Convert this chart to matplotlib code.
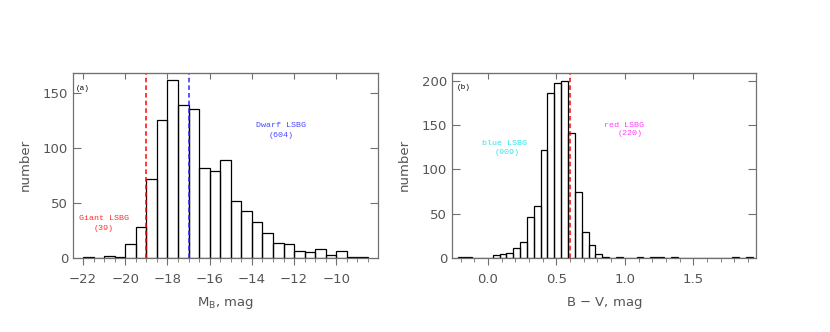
import numpy as np
import matplotlib
matplotlib.use("Agg")
import matplotlib.pyplot as plt
from matplotlib.ticker import MultipleLocator

# (a) absolute magnitude histogram, bins of 0.5 mag starting at -22
mb_start = -22.0
mb_width = 0.5
mb_counts = [1, 0, 2, 1, 13, 28, 72, 125, 161, 139, 135, 82, 79, 89, 52, 43,
             33, 23, 14, 13, 6, 5, 8, 3, 6, 1, 1]
mb_giant_cut = -19.0
mb_dwarf_cut = -17.0

# (b) colour histogram, bins of 0.05 mag starting at -0.215
bv_start = -0.215
bv_width = 0.05
bv_counts = [1, 1, 0, 0, 0, 3, 4, 6, 11, 18, 46, 59, 122, 186, 197, 200, 141,
             74, 29, 15, 5, 1, 0, 1, 0, 0, 1, 0, 1, 1, 0, 1, 0, 0, 0, 0, 0, 0,
             0, 0, 1, 0, 1]
bv_cut = 0.6

GRAY = "#707070"
TXT = "#555555"
LAB_FONT = "Liberation Mono"

fig = plt.figure(figsize=(8.3, 3.32), dpi=100)
ax1 = fig.add_axes([0.088, 0.223, 0.3674, 0.558])
ax2 = fig.add_axes([0.5446, 0.223, 0.3662, 0.558])


def style(ax, major):
    for s in ax.spines.values():
        s.set_color(GRAY)
        s.set_linewidth(0.9)
    ax.tick_params(axis="y", which="both", direction="in", length=6,
                   color=GRAY, labelcolor=TXT, labelsize=9.5, left=True, right=True)
    ax.tick_params(axis="x", which="major", direction="out", length=5,
                   color=GRAY, labelcolor=TXT, labelsize=9.5, pad=6)
    ax.tick_params(axis="x", which="minor", direction="out", length=3, color=GRAY)
    ax.set_ylabel("number", color=TXT, fontsize=9.5, labelpad=8)
    top = ax.secondary_xaxis("top")
    top.xaxis.set_major_locator(MultipleLocator(major))
    top.tick_params(direction="in", length=4, color=GRAY, labeltop=False)
    top.spines["top"].set_color(GRAY)


def hist(ax, start, width, counts):
    counts = np.array(counts)
    edges = start + width * np.arange(len(counts))
    ax.bar(edges, counts, width=width, align="edge", fill=False,
           edgecolor="black", linewidth=0.9)


# panel a
hist(ax1, mb_start, mb_width, mb_counts)
ax1.axvline(mb_giant_cut, color="red", ls=(0, (3, 2)), lw=1.1)
ax1.axvline(mb_dwarf_cut, color="#2828ff", ls=(0, (3, 2)), lw=1.1)
ax1.set_xlim(-22.47, -8.03)
ax1.set_ylim(0, 168)
ax1.xaxis.set_major_locator(MultipleLocator(2))
ax1.xaxis.set_minor_locator(MultipleLocator(0.5))
ax1.yaxis.set_major_locator(MultipleLocator(50))
style(ax1, 2)
ax1.set_xlabel("M$_\\mathregular{B}$, mag", color=TXT, fontsize=9.5, labelpad=6)
ax1.text(-22.35, 154, "(a)", fontsize=5.5, family=LAB_FONT, va="center")
ax1.text(-12.6, 120.5, "Dwarf LSBG", fontsize=6, family=LAB_FONT,
         color="#4848ff", ha="center", va="center")
ax1.text(-12.6, 111.5, "(604)", fontsize=6, family=LAB_FONT,
         color="#4848ff", ha="center", va="center")
ax1.text(-21.0, 36, "Giant LSBG", fontsize=6, family=LAB_FONT,
         color="#ff3030", ha="center", va="center")
ax1.text(-21.0, 27, "(39)", fontsize=6, family=LAB_FONT,
         color="#ff3030", ha="center", va="center")

# panel b
hist(ax2, bv_start, bv_width, bv_counts)
ax2.axvline(bv_cut, color="red", ls=(0, (3, 2)), lw=1.1)
ax2.set_xlim(-0.262, 1.957)
ax2.set_ylim(0, 209)
ax2.xaxis.set_major_locator(MultipleLocator(0.5))
ax2.xaxis.set_minor_locator(MultipleLocator(0.1))
ax2.yaxis.set_major_locator(MultipleLocator(50))
ax2.xaxis.set_major_formatter(plt.FormatStrFormatter("%.1f"))
style(ax2, 0.5)
ax2.set_xlabel("B $-$ V, mag", color=TXT, fontsize=9.5, labelpad=6)
ax2.text(-0.225, 192, "(b)", fontsize=5.5, family=LAB_FONT, va="center")
ax2.text(0.12, 129, "blue LSBG", fontsize=6, family=LAB_FONT,
         color="#30e8f0", ha="center", va="center")
ax2.text(0.14, 119, "(909)", fontsize=6, family=LAB_FONT,
         color="#30e8f0", ha="center", va="center")
ax2.text(0.99, 150, "red LSBG", fontsize=6, family=LAB_FONT,
         color="#ff40ff", ha="center", va="center")
ax2.text(1.04, 140, "(220)", fontsize=6, family=LAB_FONT,
         color="#ff40ff", ha="center", va="center")

fig.savefig("out.png", dpi=100)
